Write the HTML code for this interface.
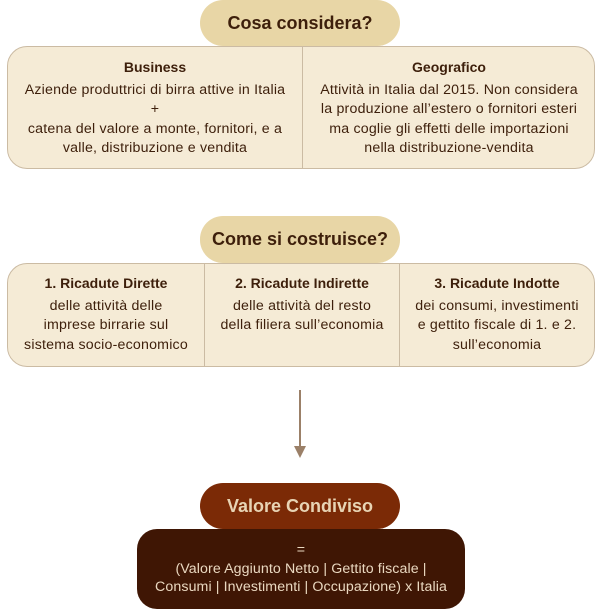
<!DOCTYPE html>
<html><head><meta charset="utf-8"><style>
body{margin:0;width:601px;height:610px;background:#fff;font-family:"Liberation Sans",sans-serif;position:relative;overflow:hidden}
.a{position:absolute;box-sizing:border-box}
.pill{background:#e8d6a6;border-radius:23px;color:#3d1f0b;font-weight:bold;font-size:18px;text-align:center;line-height:46px}
.box{background:#f5ebd6;border:1px solid #cbbba3;border-radius:20px}
.col{position:absolute;text-align:center;font-size:14.2px;letter-spacing:0.2px;color:#3d1f0b;line-height:19.5px;white-space:nowrap}
.col b{display:block;margin-bottom:3px;font-size:14px;letter-spacing:0}
.div{position:absolute;width:1px;background:#cbbba3}
</style></head><body>
<div class="a pill" style="left:200px;top:0;width:200px;height:46px">Cosa considera?</div>
<div class="a box" style="left:7px;top:46px;width:588px;height:123px">
 <div class="div" style="left:294px;top:0;height:121px"></div>
 <div class="col" style="left:0;width:294px;top:11px"><b>Business</b>Aziende produttrici di birra attive in Italia<br>+<br>catena del valore a monte, fornitori, e a<br>valle, distribuzione e vendita</div>
 <div class="col" style="left:295px;width:292px;top:11px"><b>Geografico</b>Attività in Italia dal 2015. Non considera<br>la produzione all’estero o fornitori esteri<br>ma coglie gli effetti delle importazioni<br>nella distribuzione-vendita</div>
</div>
<div class="a pill" style="left:200px;top:216px;width:200px;height:47px">Come si costruisce?</div>
<div class="a box" style="left:7px;top:263px;width:588px;height:104px">
 <div class="div" style="left:196px;top:0;height:102px"></div>
 <div class="div" style="left:391px;top:0;height:102px"></div>
 <div class="col" style="left:0;width:196px;top:10px"><b>1. Ricadute Dirette</b>delle attività delle<br>imprese birrarie sul<br>sistema socio-economico</div>
 <div class="col" style="left:197px;width:194px;top:10px"><b>2. Ricadute Indirette</b>delle attività del resto<br>della filiera sull’economia</div>
 <div class="col" style="left:392px;width:194px;top:10px"><b>3. Ricadute Indotte</b>dei consumi, investimenti<br>e gettito fiscale di 1. e 2.<br>sull’economia</div>
</div>
<svg class="a" style="left:290px;top:390px" width="20" height="70"><line x1="10" y1="0" x2="10" y2="56" stroke="#9b8068" stroke-width="2"/><polygon points="4,56 16,56 10,68" fill="#9b8068"/></svg>
<div class="a pill" style="left:200px;top:483px;width:200px;height:46px;background:#7b2a06;color:#e8d4b4">Valore Condiviso</div>
<div class="a" style="left:137px;top:529px;width:328px;height:80px;background:#3f1604;border-radius:20px;color:#ead8c0;font-size:14.2px;letter-spacing:0.1px;text-align:center;line-height:18.5px;padding-top:12px;white-space:nowrap">=<br>(Valore Aggiunto Netto | Gettito fiscale |<br>Consumi | Investimenti | Occupazione) x Italia</div>
</body></html>
